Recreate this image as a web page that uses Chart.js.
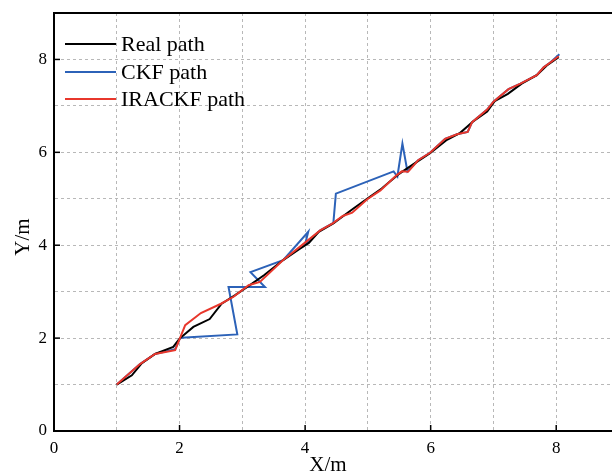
<!DOCTYPE html>
<html><head><meta charset="utf-8">
<script src="https://cdn.jsdelivr.net/npm/chart.js@4"></script>
<style>
html,body{margin:0;padding:0;overflow:hidden;background:#fff;width:612px;height:472px}
#wrap{width:640px;height:472px;position:relative}
</style>
</head><body><div id="wrap"><canvas id="c" width="640" height="472"></canvas></div>
<script>
// ---- data ----
const seriesNames = ['Real path', 'CKF path', 'IRACKF path'];
const realX = [1.00,1.24,1.40,1.61,1.90,2.00,2.22,2.48,2.67,2.88,3.12,3.35,3.65,3.90,4.06,4.21,4.45,4.77,5.02,5.22,5.48,5.72,5.99,6.26,6.47,6.67,6.90,7.02,7.23,7.45,7.69,7.85,8.04];
const realY = [1.00,1.20,1.46,1.66,1.81,1.99,2.24,2.41,2.74,2.92,3.14,3.36,3.68,3.91,4.05,4.28,4.47,4.79,5.03,5.22,5.52,5.74,5.98,6.27,6.42,6.66,6.88,7.10,7.26,7.48,7.66,7.87,8.05];
const ckfX = [1.00,1.37,1.61,1.93,2.00,2.03,2.92,2.78,3.36,3.13,3.65,4.05,4.00,4.24,4.45,4.49,5.41,5.47,5.55,5.63,5.80,5.99,6.23,6.42,6.59,6.66,6.90,7.00,7.24,7.43,7.69,7.80,7.90,8.05];
const ckfY = [1.00,1.44,1.66,1.76,1.98,2.01,2.08,3.10,3.10,3.42,3.68,4.29,4.02,4.32,4.48,5.11,5.59,5.48,6.19,5.59,5.83,5.99,6.29,6.39,6.44,6.65,6.92,7.09,7.36,7.48,7.66,7.83,7.93,8.11];
const irackfX = [1.00,1.37,1.61,1.93,2.09,2.34,2.66,2.86,3.10,3.28,3.65,3.92,4.24,4.44,4.60,4.75,4.99,5.20,5.46,5.54,5.64,5.80,5.99,6.23,6.42,6.59,6.66,6.90,7.00,7.24,7.43,7.69,7.80,7.90,8.04];
const irackfY = [1.00,1.44,1.66,1.74,2.28,2.54,2.74,2.89,3.14,3.21,3.68,3.97,4.32,4.47,4.63,4.70,4.99,5.18,5.51,5.59,5.58,5.83,5.99,6.29,6.39,6.44,6.65,6.92,7.09,7.36,7.48,7.66,7.83,7.93,8.07];
const tickValues = [0, 2, 4, 6, 8];
const axisMin = 0, axisMax = 9;

const toPts = (xs, ys) => xs.map((v, i) => ({x: v, y: ys[i]}));
const colors = ['#000000', '#2c62b8', '#e8372c'];
const FONT = "'Liberation Serif','Times New Roman',serif";

const decor = {
  id: 'decor',
  afterDraw(chart) {
    const {ctx, chartArea: a, scales: {x, y}} = chart;
    ctx.save();
    // top border
    ctx.strokeStyle = '#000'; ctx.lineWidth = 2;
    ctx.beginPath(); ctx.moveTo(a.left - 1, a.top); ctx.lineTo(a.right + 20, a.top); ctx.stroke();
    // inward ticks
    ctx.lineWidth = 1.5;
    tickValues.forEach(v => {
      const px = x.getPixelForValue(v);
      ctx.beginPath(); ctx.moveTo(px, a.bottom); ctx.lineTo(px, a.bottom - 6); ctx.stroke();
      const py = y.getPixelForValue(v);
      ctx.beginPath(); ctx.moveTo(a.left, py); ctx.lineTo(a.left + 6, py); ctx.stroke();
    });
    // axis titles
    ctx.fillStyle = '#000';
    ctx.font = "21px " + FONT;
    ctx.textAlign = 'center'; ctx.textBaseline = 'alphabetic';
    ctx.fillText('X/m', 328, 471);
    ctx.save();
    ctx.translate(29, 237); ctx.rotate(-Math.PI / 2);
    ctx.fillText('Y/m', 0, 0);
    ctx.restore();
    // legend
    ctx.font = "22px " + FONT;
    ctx.textAlign = 'left'; ctx.textBaseline = 'middle';
    const rows = [44, 72, 99];
    seriesNames.forEach((name, i) => {
      ctx.strokeStyle = colors[i]; ctx.lineWidth = 2;
      ctx.beginPath(); ctx.moveTo(65, rows[i]); ctx.lineTo(116, rows[i]); ctx.stroke();
      ctx.fillStyle = '#000';
      ctx.fillText(name, 121, rows[i] + 1);
    });
    ctx.restore();
  }
};

const mk = (i, xs, ys, order) => ({
  label: seriesNames[i], data: toPts(xs, ys), showLine: true,
  borderColor: colors[i], backgroundColor: colors[i], borderWidth: 2,
  pointRadius: 0, tension: 0, order: order
});

new Chart(document.getElementById('c'), {
  type: 'scatter',
  data: { datasets: [mk(0, realX, realY, 2), mk(1, ckfX, ckfY, 3), mk(2, irackfX, irackfY, 1)] },
  options: {
    responsive: false, animation: false, devicePixelRatio: 1,
    layout: { padding: { top: 13, right: 21, left: 0, bottom: 0 } },
    plugins: { legend: { display: false }, tooltip: { enabled: false } },
    scales: {
      x: {
        type: 'linear', min: axisMin, max: axisMax,
        afterFit(s) { s.height = 41; s.paddingLeft = 0; s.paddingRight = 0; },
        grid: { color: '#b8b8b8', lineWidth: 1, drawTicks: false },
        border: { color: '#000', width: 2, dash: [3, 3] },
        ticks: { stepSize: 1, autoSkip: false, maxRotation: 0, padding: 7, color: '#000',
          font: { family: FONT, size: 17 },
          callback: v => tickValues.includes(v) ? String(v) : '' }
      },
      y: {
        type: 'linear', min: axisMin, max: axisMax,
        afterFit(s) { s.width = 54; s.paddingTop = 0; s.paddingBottom = 0; },
        grid: { color: '#b8b8b8', lineWidth: 1, drawTicks: false },
        border: { color: '#000', width: 2, dash: [3, 3] },
        ticks: { stepSize: 1, autoSkip: false, padding: 7, color: '#000',
          font: { family: FONT, size: 17 },
          callback: v => tickValues.includes(v) ? String(v) : '' }
      }
    }
  },
  plugins: [decor]
});
</script>
</body></html>
